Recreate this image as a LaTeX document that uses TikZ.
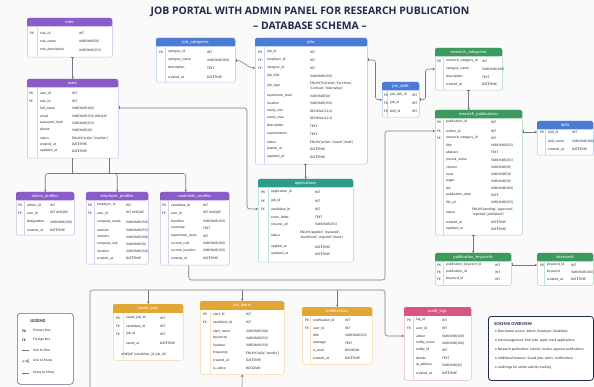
\documentclass[tikz,border=0pt]{standalone}
\usepackage{fontspec}
\setmainfont{Open Sans}
\newfontfamily\cellfont{Carlito}
\usetikzlibrary{arrows.meta,calc}
\definecolor{cpur}{HTML}{8B5CC8}
\definecolor{cblu}{HTML}{4B7BD4}
\definecolor{cgrn}{HTML}{3D9A5F}
\definecolor{ctea}{HTML}{2E9C8C}
\definecolor{cgld}{HTML}{E2A634}
\definecolor{cpnk}{HTML}{D9577F}
\definecolor{cline}{HTML}{737880}
\definecolor{ctxt}{HTML}{262B33}
\definecolor{navy}{HTML}{1F2B4D}
\definecolor{lgc}{HTML}{5C6A86}
\definecolor{bg}{HTML}{FAFAFB}
\newcommand\cf{\cellfont\fontsize{3.6}{4.1}\selectfont}
\newcommand\hf{\cellfont\fontsize{4.4}{4.7}\selectfont}
\tikzset{
  tblbox/.style={fill=white, rounded corners=2pt, line width=.5pt, inner sep=0pt, anchor=north west},
  hdr/.style={text=white, font=\hf, inner sep=0pt},
  cell/.style={font=\cf, inner sep=0pt, anchor=west, text=ctxt, align=left},
  conn/.style={draw=cline, line width=.55pt, rounded corners=2.5pt, -{Stealth[length=2.4pt,width=2.6pt]}},
  conntwo/.style={draw=cline, line width=.55pt, rounded corners=2.5pt, {Bar[width=3pt]}-{Stealth[length=2.4pt,width=2.6pt]}},
  ln/.style={draw=cline, line width=.55pt, rounded corners=2.5pt},
  lgtext/.style={font=\cf, inner sep=0pt, anchor=west, text=ctxt},
}
\newcommand\setcols[3]{\def\KX{#1}\def\FX{#2}\def\TX{#3}}
\newcommand\erdtable[7]{%
  \node[tblbox, draw=#6!45, minimum width=#4pt, minimum height=#5pt] (#1) at (#2,#3) {};
  \fill[#6, rounded corners=2pt] (#2,#3) rectangle ++(#4,8.5);
  \fill[#6] ({#2},{#3+4}) rectangle ++(#4,4.5);
  \node[hdr] (#1-t) at ({#2+#4/2},{#3+4.3}) {#7};
  \draw[#6!30, line width=.3pt] ({\FX-2.5},{#3+8.5}) -- ({\FX-2.5},{#3+#5});
}
\newcommand\erow[6]{%
  \node[cell] (#1-k#2) at (\KX,#3) {#4};
  \node[cell] (#1-f#2) at (\FX,#3) {#5};
  \node[cell] (#1-y#2) at (\TX,#3) {#6};
}
\newcommand\erowx[7]{%
  \node[cell] (#1-k#2) at (\KX,#3) {#4};
  \node[cell] (#1-f#2) at (\FX,#3) {#5};
  \node[cell] (#1-y#2) at (#6,#3) {#7};
}
\begin{document}
\begin{tikzpicture}[x=1pt,y=-1pt]
\useasboundingbox (0,0) rectangle (594,387);
\fill[bg] (0,0) rectangle (594,387);

% title
\node[font=\fontsize{10.4}{11}\selectfont\bfseries, text=navy, inner sep=0pt] (title1) at (310,12) {JOB PORTAL WITH ADMIN PANEL FOR RESEARCH PUBLICATION};
\node[font=\fontsize{10.4}{11}\selectfont\bfseries, text=navy, inner sep=0pt] (title2) at (310,26) {– DATABASE SCHEMA –};

% roles
\setcols{30}{40}{79}
\erdtable{roles}{27}{18}{85}{39}{cpur}{roles}
\erow{roles}{1}{33}{PK}{role\_id}{INT}
\erow{roles}{2}{41}{}{role\_name}{VARCHAR(50)}
\erow{roles}{3}{50}{}{role\_description}{VARCHAR(255)}

% users
\setcols{29}{40}{72}
\erdtable{users}{27}{79}{91}{79}{cpur}{users}
\erow{users}{1}{93}{PK}{user\_id}{INT}
\erow{users}{2}{101}{FK}{role\_id}{INT}
\erow{users}{3}{108}{}{full\_name}{VARCHAR(100)}
\erow{users}{4}{116}{}{email}{VARCHAR(150) UNIQUE}
\erow{users}{5}{123}{}{password\_hash}{VARCHAR(255)}
\erow{users}{6}{130}{}{phone}{VARCHAR(20)}
\erow{users}{7}{138}{}{status}{ENUM('active','inactive')}
\erow{users}{8}{144}{}{created\_at}{DATETIME}
\erow{users}{9}{151}{}{updated\_at}{DATETIME}

% admin_profiles
\setcols{18}{27}{50}
\erdtable{admin}{16}{192}{58}{43}{cpur}{admin\_profiles}
\erow{admin}{1}{205}{PK}{admin\_id}{INT}
\erow{admin}{2}{213}{FK}{user\_id}{INT UNIQUE}
\erow{admin}{3}{222}{}{designation}{VARCHAR(100)}
\erow{admin}{4}{230}{}{created\_at}{DATETIME}

% employer_profiles
\setcols{88}{97}{126}
\erdtable{employer}{86}{192}{62}{72}{cpur}{employer\_profiles}
\erow{employer}{1}{205}{PK}{employer\_id}{INT}
\erow{employer}{2}{213}{FK}{user\_id}{INT UNIQUE}
\erow{employer}{3}{222}{}{company\_name}{VARCHAR(150)}
\erow{employer}{4}{230}{}{website}{VARCHAR(255)}
\erow{employer}{5}{237}{}{industry}{VARCHAR(100)}
\erow{employer}{6}{244}{}{company\_size}{VARCHAR(50)}
\erow{employer}{7}{251}{}{location}{VARCHAR(150)}
\erow{employer}{8}{258}{}{created\_at}{DATETIME}

% candidate_profiles
\setcols{162}{171}{203}
\erdtable{candidate}{160}{192}{69}{73}{cpur}{candidate\_profiles}
\erow{candidate}{1}{205}{PK}{candidate\_id}{INT}
\erow{candidate}{2}{213}{FK}{user\_id}{INT UNIQUE}
\erow{candidate}{3}{221}{}{headline}{VARCHAR(150)}
\erow{candidate}{4}{228}{}{summary}{TEXT}
\erow{candidate}{5}{236}{}{experience\_years}{INT}
\erow{candidate}{6}{243}{}{current\_role}{VARCHAR(100)}
\erow{candidate}{7}{250}{}{current\_location}{VARCHAR(150)}
\erow{candidate}{8}{258}{}{created\_at}{DATETIME}

% job_categories
\setcols{159}{168}{207}
\erdtable{jobcat}{156}{38}{79}{44}{cblu}{job\_categories}
\erow{jobcat}{1}{52}{PK}{category\_id}{INT}
\erow{jobcat}{2}{60}{}{category\_name}{VARCHAR(100)}
\erow{jobcat}{3}{68}{}{description}{TEXT}
\erow{jobcat}{4}{77}{}{created\_at}{DATETIME}

% jobs
\setcols{258}{267}{310}
\erdtable{jobs}{255}{38}{112}{126}{cblu}{jobs}
\erow{jobs}{1}{52}{PK}{job\_id}{INT}
\erow{jobs}{2}{60}{FK}{employer\_id}{INT}
\erow{jobs}{3}{68}{FK}{category\_id}{INT}
\erow{jobs}{4}{76}{}{job\_title}{VARCHAR(150)}
\erow{jobs}{5}{86}{}{job\_type}{ENUM('Full-time','Part-time',\\'Contract','Internship')}
\erow{jobs}{6}{96}{}{experience\_level}{VARCHAR(50)}
\erow{jobs}{7}{103}{}{location}{VARCHAR(150)}
\erow{jobs}{8}{111}{}{salary\_min}{DECIMAL(12,2)}
\erow{jobs}{9}{118}{}{salary\_max}{DECIMAL(12,2)}
\erow{jobs}{10}{126}{}{description}{TEXT}
\erow{jobs}{11}{134}{}{requirements}{TEXT}
\erow{jobs}{12}{142}{}{status}{ENUM('active','closed','draft')}
\erow{jobs}{13}{149}{}{posted\_at}{DATETIME}
\erow{jobs}{14}{157}{}{updated\_at}{DATETIME}

% job_skills
\setcols{384}{390}{412}
\erdtable{jobskills}{382}{82}{37}{35}{cblu}{job\_skills}
\erow{jobskills}{1}{95}{PK}{job\_skill\_id}{INT}
\erow{jobskills}{2}{103}{FK}{job\_id}{INT}
\erow{jobskills}{3}{111}{FK}{skill\_id}{INT}

% research_categories
\setcols{437}{446}{482}
\erdtable{rescat}{435}{48}{67}{42}{cgrn}{research\_categories}
\erow{rescat}{1}{61}{PK}{research\_category\_id}{INT}
\erow{rescat}{2}{69}{}{category\_name}{VARCHAR(100)}
\erow{rescat}{3}{77}{}{description}{TEXT}
\erow{rescat}{4}{84}{}{created\_at}{DATETIME}

% research_publications
\setcols{437}{446}{491}
\erdtable{respub}{435}{110}{87}{125}{cgrn}{research\_publications}
\erow{respub}{1}{122}{PK}{publication\_id}{INT}
\erow{respub}{2}{131}{FK}{author\_id}{INT}
\erow{respub}{3}{138}{FK}{research\_category\_id}{INT}
\erow{respub}{4}{145}{}{title}{VARCHAR(255)}
\erow{respub}{5}{152}{}{abstract}{TEXT}
\erow{respub}{6}{160}{}{journal\_name}{VARCHAR(255)}
\erow{respub}{7}{167}{}{volume}{VARCHAR(50)}
\erow{respub}{8}{174}{}{issue}{VARCHAR(50)}
\erow{respub}{9}{181}{}{pages}{VARCHAR(50)}
\erow{respub}{10}{188}{}{doi}{VARCHAR(100)}
\erow{respub}{11}{195}{}{publication\_date}{DATE}
\erow{respub}{12}{202}{}{file\_url}{VARCHAR(255)}
\erowx{respub}{13}{212}{}{status}{472}{ENUM('pending','approved',\\'rejected','published')}
\erow{respub}{14}{222}{}{created\_at}{DATETIME}
\erow{respub}{15}{229}{}{updated\_at}{DATETIME}

% skills
\setcols{540}{548}{572}
\erdtable{skills}{537}{121}{56}{34}{cblu}{skills}
\erow{skills}{1}{132}{PK}{skill\_id}{INT}
\erow{skills}{2}{141}{}{skill\_name}{VARCHAR(100)}
\erow{skills}{3}{149}{}{created\_at}{DATETIME}

% publication_keywords
\setcols{437}{446}{495}
\erdtable{pubkw}{435}{253}{76}{32}{cgrn}{publication\_keywords}
\erow{pubkw}{1}{265}{PK}{publication\_keyword\_id}{INT}
\erow{pubkw}{2}{272}{FK}{publication\_id}{INT}
\erow{pubkw}{3}{279}{FK}{keyword\_id}{INT}

% keywords
\setcols{540}{547}{571}
\erdtable{keywords}{537}{253}{56}{32}{cgrn}{keywords}
\erow{keywords}{1}{265}{PK}{keyword\_id}{INT}
\erow{keywords}{2}{272}{}{keyword}{VARCHAR(100)}
\erow{keywords}{3}{279}{}{created\_at}{DATETIME}

% applications
\setcols{261}{271}{315}
\erdtable{applications}{258}{179}{95}{83}{ctea}{applications}
\erow{applications}{1}{192}{PK}{application\_id}{INT}
\erow{applications}{2}{201}{FK}{job\_id}{INT}
\erow{applications}{3}{209}{FK}{candidate\_id}{INT}
\erow{applications}{4}{217}{}{cover\_letter}{TEXT}
\erow{applications}{5}{224}{}{resume\_url}{VARCHAR(255)}
\erowx{applications}{6}{235}{}{status}{300}{ENUM('applied','reviewed',\\'shortlisted','rejected','hired')}
\erow{applications}{7}{247}{}{applied\_at}{DATETIME}
\erow{applications}{8}{254}{}{updated\_at}{DATETIME}

% saved_jobs
\setcols{116}{126}{160}
\erdtable{saved}{113}{304}{70}{56}{cgld}{saved\_jobs}
\erow{saved}{1}{318}{PK}{saved\_job\_id}{INT}
\erow{saved}{2}{326}{FK}{candidate\_id}{INT}
\erow{saved}{3}{334}{FK}{job\_id}{INT}
\erow{saved}{4}{343}{}{saved\_at}{DATETIME}
\node[cell] (saved-u) at (121,354) {UNIQUE (candidate\_id, job\_id)};

% job_alerts
\setcols{203}{213}{246}
\erdtable{alerts}{200}{301}{84}{73}{cgld}{job\_alerts}
\erow{alerts}{1}{314}{PK}{alert\_id}{INT}
\erow{alerts}{2}{322}{FK}{candidate\_id}{INT}
\erow{alerts}{3}{331}{}{alert\_name}{VARCHAR(100)}
\erow{alerts}{4}{338}{}{keywords}{VARCHAR(255)}
\erow{alerts}{5}{345}{}{location}{VARCHAR(150)}
\erow{alerts}{6}{353}{}{frequency}{ENUM('daily','weekly')}
\erow{alerts}{7}{360}{}{created\_at}{DATETIME}
\erow{alerts}{8}{368}{}{is\_active}{BOOLEAN}

% notifications
\setcols{305}{313}{345}
\erdtable{notif}{302}{307}{70}{57}{cgld}{notifications}
\erow{notif}{1}{320}{PK}{notification\_id}{INT}
\erow{notif}{2}{328}{FK}{user\_id}{INT}
\erow{notif}{3}{335}{}{title}{VARCHAR(255)}
\erow{notif}{4}{343}{}{message}{TEXT}
\erow{notif}{5}{350}{}{is\_read}{BOOLEAN}
\erow{notif}{6}{358}{}{created\_at}{DATETIME}

% audit_logs
\setcols{407}{416}{442}
\erdtable{audit}{404}{307}{67}{73}{cpnk}{audit\_logs}
\erow{audit}{1}{320}{PK}{log\_id}{INT}
\erow{audit}{2}{328}{FK}{user\_id}{INT}
\erow{audit}{3}{336}{}{action}{VARCHAR(100)}
\erow{audit}{4}{343}{}{entity\_name}{VARCHAR(100)}
\erow{audit}{5}{350}{}{entity\_id}{INT}
\erow{audit}{6}{358}{}{details}{TEXT}
\erow{audit}{7}{365}{}{ip\_address}{VARCHAR(45)}
\erow{audit}{8}{373}{}{created\_at}{DATETIME}

% ---------- connectors ----------
\draw[conntwo] (users.north |- roles.south) -- (users.north);
\draw[conntwo] (users.east |- users-f3) -- (247,108) -- (247,209) -- (applications.west |- applications-f3);
\draw[ln] (users.south) -- ++(0,15);
\draw[ln] ([xshift=37pt]users.south) -- ++(0,15);
\draw[conn] (users.south) ++(0,15) -| (admin.north);
\draw[conn] (users.south) ++(0,15) -| (employer.north);
\draw[conn] (users.south) ++(0,15) -| ([xshift=-9pt]candidate.north);
\draw[conntwo] (jobcat.east) to[out=0,in=180] (jobs.west |- jobs-f3);
\draw[conntwo] (jobs.east |- jobs-f2) -- ++(8,0) |- (jobskills.west);
\draw[conntwo] (jobskills.east) -- ++(6,0) |- (rescat.west |- rescat-f2);
\draw[conntwo] (rescat.south) -- (rescat.south |- respub.north);
\draw[conntwo] (respub.east |- skills-f1) -- (skills.west |- skills-f1);
\draw[conntwo] (pubkw.north |- respub.south) -- (pubkw.north);
\draw[conntwo] (pubkw.east |- pubkw-f1) -- (keywords.west |- pubkw-f1);
\draw[conntwo] (applications.north |- jobs.south) -- (applications.north);
\draw[conn] ([xshift=-6pt]candidate.south) |- (385,280) |- (respub.west |- respub-f2);
\coordinate (lb) at (90,387);
\coordinate (bus) at (90,290);
\draw[conn] (lb) |- (385,290) |- (audit.west |- audit-f3);
\draw[conn] (saved.north |- bus) -- (saved.north);
\draw[conn] (alerts.north |- bus) -- (alerts.north);
\draw[conn] (notif.north |- bus) -- (notif.north);
\coordinate (ab) at (242,387);
\draw[conn] (ab) -- (alerts.south);

% ---------- legend ----------
\node[draw=lgc, fill=white, rounded corners=3pt, line width=.6pt, minimum width=56pt, minimum height=71pt, anchor=north west, inner sep=0pt] (legend) at (17,313) {};
\node[font=\cellfont\fontsize{4.5}{4.8}\selectfont\bfseries, text=navy, inner sep=0pt] (lg-t) at (38,321) {LEGEND};
\node[lgtext, font=\cf\bfseries] (lg-pk) at (22,331) {PK};
\node[lgtext] (lg-1) at (33,331) {Primary Key};
\node[lgtext, font=\cf\bfseries] (lg-fk) at (22,340) {FK};
\node[lgtext] (lg-2) at (33,340) {Foreign Key};
\draw[cline, line width=.5pt] (22,350) -- (29,350);
\node[lgtext] (lg-3) at (33,350) {One to One};
\draw[cline, line width=.5pt] (22,361) -- (29,361) (23,359.5) -- (23,362.5) (26,361) -- (29,359.3) (26,361) -- (29,362.7);
\node[lgtext] (lg-4) at (33,361) {One to Many};
\draw[cline, line width=.5pt] (22,373) -- (29,373);
\node[lgtext] (lg-5) at (33,373) {Many to Many};

% ---------- overview ----------
\node[draw=navy, fill=white, rounded corners=3pt, line width=.8pt, minimum width=105pt, minimum height=64pt, anchor=north west, inner sep=0pt] (ov) at (488,316) {};
\node[font=\cellfont\fontsize{4.5}{4.8}\selectfont\bfseries, text=navy, inner sep=0pt, anchor=west] (ov-t) at (494,324) {SCHEMA OVERVIEW};
\node[lgtext] (ov-1) at (495,332) {• Role-based access: Admin, Employer, Candidate};
\node[lgtext] (ov-2) at (495,341) {• Job management: Post jobs, apply, track applications};
\node[lgtext] (ov-3) at (495,350) {• Research publication: Submit, review, approve publications};
\node[lgtext] (ov-4) at (495,359) {• Additional features: Saved jobs, alerts, notifications};
\node[lgtext] (ov-5) at (495,368) {• Audit logs for admin activity tracking};
\end{tikzpicture}
\end{document}
